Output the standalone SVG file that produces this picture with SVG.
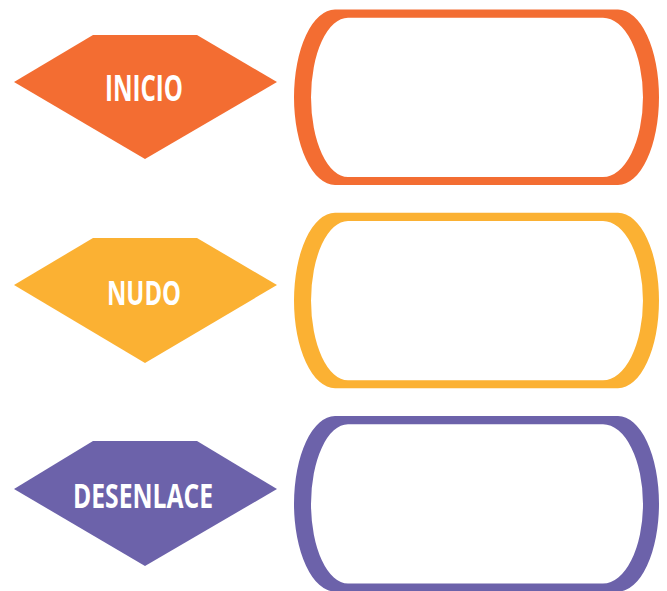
<svg xmlns="http://www.w3.org/2000/svg" width="667" height="591" viewBox="0 0 667 591">
<style>
.lbl{font-family:"Open Sans","Liberation Sans",sans-serif;font-weight:700;font-size:34px;fill:#ffffff;text-anchor:middle}
.orange{fill:#F36D32}
.yellow{fill:#FBB133}
.purple{fill:#6C62AA}
.pill{fill-rule:evenodd}
</style>
<rect width="667" height="591" fill="#ffffff"/>
<g id="connectors"></g>
<g id="inicio">
<polygon class="orange" points="14,82 93,35 197,35 277,82 145,159"/>
<text class="lbl" x="144" y="101" textLength="78" lengthAdjust="spacingAndGlyphs" style="font-size:36px">INICIO</text>
</g>
<g id="inicio-box">
<path class="orange pill" d="M335,9.5 H618 A41,87.75 0 0 1 618,185 H335 A41,87.75 0 0 1 335,9.5 Z M348,17.7 A37,79.65 0 0 0 348,177 H603 A40,79.65 0 0 0 603,17.7 Z"/>
</g>
<g id="nudo">
<polygon class="yellow" points="14,285 93,238 197,238 277,285 145,363"/>
<text class="lbl" x="144" y="305" textLength="74" lengthAdjust="spacingAndGlyphs">NUDO</text>
</g>
<g id="nudo-box">
<path class="yellow pill" d="M335,212.8 H618 A41,87.75 0 0 1 618,388.3 H335 A41,87.75 0 0 1 335,212.8 Z M348,221 A37,79.65 0 0 0 348,380.3 H603 A40,79.65 0 0 0 603,221 Z"/>
</g>
<g id="desenlace">
<polygon class="purple" points="14,489 93,441 197,441 277,489 145,566"/>
<text class="lbl" x="143" y="508" textLength="140" lengthAdjust="spacingAndGlyphs">DESENLACE</text>
</g>
<g id="desenlace-box">
<path class="purple pill" d="M335,416 H618 A41,87.75 0 0 1 618,591.5 H335 A41,87.75 0 0 1 335,416 Z M348,424.3 A37,79.65 0 0 0 348,583.6 H603 A40,79.65 0 0 0 603,424.3 Z"/>
</g>
</svg>
